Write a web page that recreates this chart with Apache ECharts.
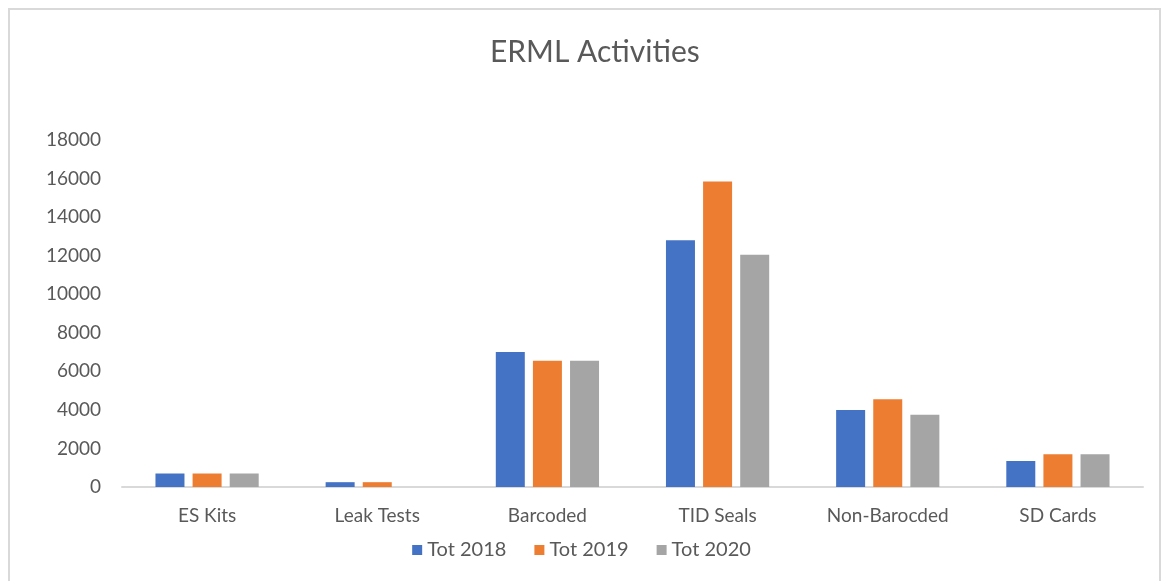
<!DOCTYPE html>
<html>
<head>
<meta charset="utf-8">
<title>ERML Activities</title>
<script src="https://cdn.jsdelivr.net/npm/echarts@6/dist/echarts.min.js"></script>
<style>
  html, body { margin: 0; padding: 0; background: #fff; }
  #chart { width: 1163px; height: 581px; }
</style>
</head>
<body>
<div id="chart"></div>
<script>
// categories and yearly totals
const categories = ['ES Kits', 'Leak Tests', 'Barcoded', 'TID Seals', 'Non-Barocded', 'SD Cards'];
const seriesNames = ['Tot 2018', 'Tot 2019', 'Tot 2020'];
const tot2018 = [700, 250, 7000, 12800, 4000, 1350];
const tot2019 = [700, 250, 6550, 15850, 4550, 1700];
const tot2020 = [700, 0, 6550, 12050, 3750, 1700];
const colors = ['#4472C4', '#ED7D31', '#A5A5A5'];

const textColor = '#595959';
const font = 'Lato, "Open Sans", sans-serif';

const chart = echarts.init(document.getElementById('chart'));

const seriesData = [tot2018, tot2019, tot2020];

const option = {
    animation: false,
    color: colors,
    title: {
        text: 'ERML Activities',
        left: 485,
        top: 32,
        textStyle: {
            color: textColor,
            fontSize: 30,
            fontWeight: 'normal',
            fontFamily: font
        }
    },
    graphic: [
        {
            // light frame round the chart area
            type: 'rect',
            silent: true,
            shape: { x: 9, y: 9, width: 1151, height: 600 },
            style: { fill: 'none', stroke: '#d9d9d9', lineWidth: 2 }
        }
    ],
    legend: {
        bottom: 16,
        left: 'center',
        itemWidth: 10,
        itemHeight: 10,
        itemGap: 28,
        icon: 'rect',
        textStyle: { color: textColor, fontSize: 20, fontFamily: font }
    },
    grid: {
        left: 122,
        right: 20,
        top: 140,
        bottom: 94
    },
    xAxis: {
        type: 'category',
        data: categories,
        axisLine: { lineStyle: { color: '#d9d9d9', width: 2 } },
        axisTick: { show: false },
        axisLabel: {
            color: textColor,
            fontSize: 19,
            fontFamily: font,
            margin: 19
        }
    },
    yAxis: {
        type: 'value',
        min: 0,
        max: 18000,
        interval: 2000,
        axisLine: { show: false },
        axisTick: { show: false },
        splitLine: { show: false },
        axisLabel: {
            color: textColor,
            fontSize: 19,
            fontFamily: font,
            margin: 21,
            formatter: (v) => String(v)
        }
    },
    series: seriesNames.map((name, i) => ({
        name: name,
        type: 'bar',
        data: seriesData[i],
        barWidth: 29,
        barGap: '28%',
        itemStyle: { color: colors[i] }
    }))
};

chart.setOption(option);

window.addEventListener('resize', () => chart.resize());
</script>
</body>
</html>
